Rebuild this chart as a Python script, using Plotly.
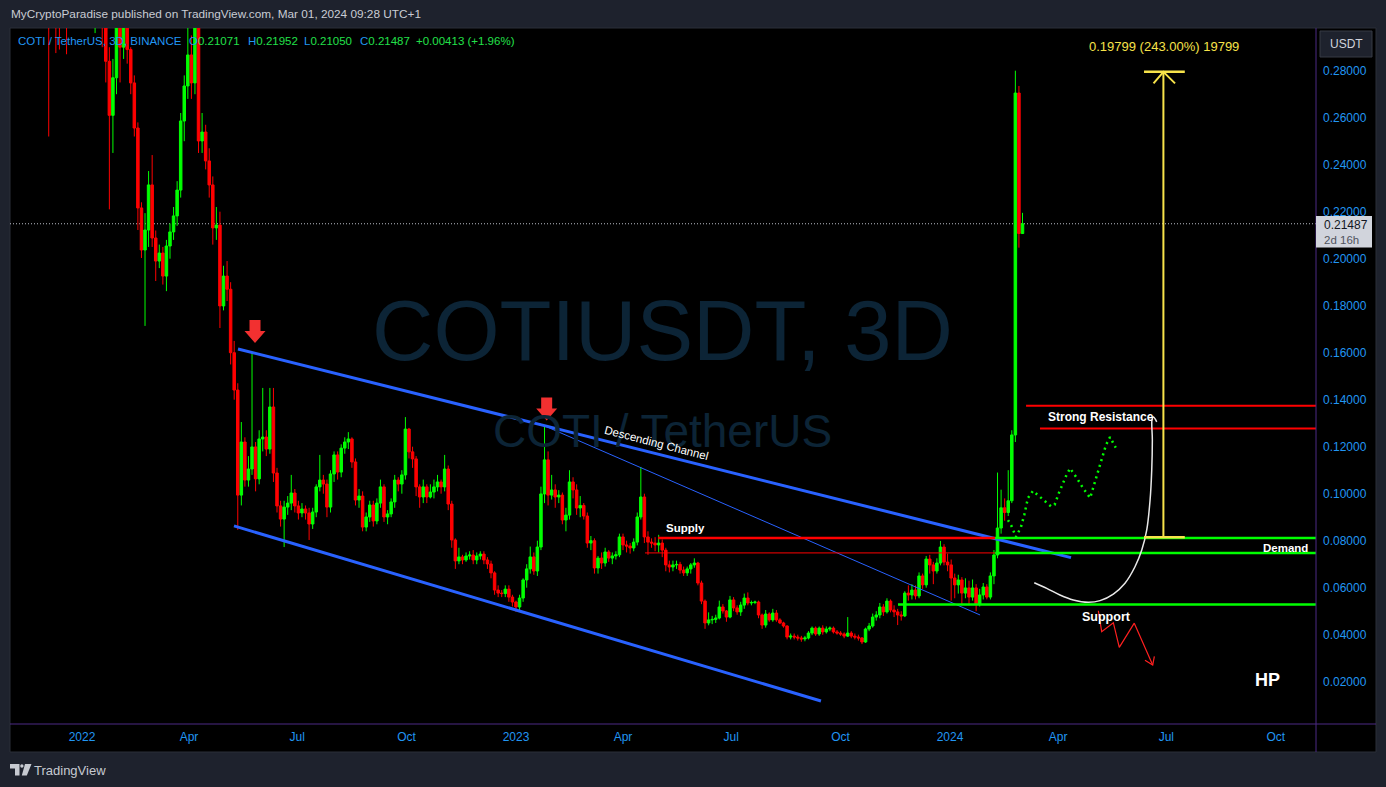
import pandas as pd
import plotly.graph_objects as go

# ---------------- data (3D candles, COTI/USDT) ----------------
LAST_DATE = "2024-03-02"
FIRST_OPEN = 0.39
CLOSES = [
    0.34, 0.36, 0.33, 0.31, 0.33, 0.315, 0.34, 0.36, 0.34, 0.33,
    0.35, 0.33, 0.315, 0.32, 0.305, 0.30, 0.284, 0.261, 0.277, 0.305,
    0.29, 0.31, 0.289, 0.2748, 0.2556, 0.2216, 0.2037, 0.2122, 0.2314, 0.2088,
    0.1990, 0.2024, 0.1926, 0.2054, 0.2114, 0.2182, 0.2292, 0.2586, 0.2735, 0.2867,
    0.2748, 0.32, 0.2501, 0.2539, 0.2416, 0.2314, 0.2131, 0.2143, 0.1799, 0.1926,
    0.1870, 0.1600, 0.1441, 0.0994, 0.1220, 0.1058, 0.1105, 0.1199, 0.1063, 0.1233,
    0.1241, 0.1190, 0.1369, 0.1088, 0.0948, 0.0892, 0.0943, 0.0960, 0.1003, 0.0948,
    0.0918, 0.0935, 0.0918, 0.0871, 0.0922, 0.1029, 0.1058, 0.1041, 0.0943, 0.1084,
    0.1165, 0.1092, 0.1194, 0.1220, 0.1233, 0.1135, 0.0973, 0.0990, 0.0858, 0.0901,
    0.0952, 0.0884, 0.0960, 0.1029, 0.0901, 0.0914, 0.0965, 0.1058, 0.1041, 0.1080,
    0.1275, 0.1178, 0.1148, 0.1029, 0.0986, 0.1029, 0.0986, 0.1007, 0.1029, 0.1050,
    0.1029, 0.1105, 0.0956, 0.0803, 0.0714, 0.0731, 0.0718, 0.0735, 0.0739, 0.0718,
    0.0735, 0.0743, 0.0718, 0.0701, 0.0663, 0.0590, 0.0577, 0.0575, 0.0594, 0.0560,
    0.0539, 0.0518, 0.0556, 0.0633, 0.0680, 0.0731, 0.0671, 0.0773, 0.0999, 0.1144,
    0.0994, 0.1016, 0.0986, 0.0994, 0.0888, 0.0909, 0.1050, 0.1016, 0.0939, 0.0950,
    0.0905, 0.0790, 0.0800, 0.0684, 0.0726, 0.0705, 0.0752, 0.0726, 0.0735, 0.0740,
    0.0816, 0.0782, 0.0777, 0.0769, 0.0794, 0.0901, 0.0986, 0.0816, 0.0794, 0.0790,
    0.0782, 0.0790, 0.0760, 0.0697, 0.0688, 0.0697, 0.0699, 0.0675, 0.0663, 0.0680,
    0.0697, 0.0705, 0.0620, 0.0543, 0.0450, 0.0463, 0.0465, 0.0471, 0.0518, 0.0501,
    0.0475, 0.0548, 0.0514, 0.0497, 0.0526, 0.0556, 0.0535, 0.0537, 0.0539, 0.0484,
    0.0441, 0.0488, 0.0463, 0.0492, 0.0463, 0.0450, 0.0437, 0.0390, 0.0394, 0.0390,
    0.0386, 0.0382, 0.0386, 0.0407, 0.0428, 0.0403, 0.0428, 0.0412, 0.0424, 0.0428,
    0.0412, 0.0407, 0.0403, 0.0394, 0.0407, 0.0394, 0.0390, 0.0386, 0.0369, 0.0424,
    0.0437, 0.0475, 0.0484, 0.0518, 0.0497, 0.0543, 0.0505, 0.0497, 0.0484, 0.0480,
    0.0577, 0.0569, 0.0590, 0.0565, 0.0650, 0.0612, 0.0722, 0.0697, 0.0671, 0.0705,
    0.0773, 0.0709, 0.0697, 0.0641, 0.0612, 0.0633, 0.0577, 0.0599, 0.0560, 0.0599,
    0.0531, 0.0569, 0.0603, 0.0560, 0.0650, 0.0739, 0.0854, 0.0940, 0.0920, 0.0970,
    0.1250, 0.2705, 0.21071, 0.21487,
]
HIGHS = [
    0.40, 0.37, 0.365, 0.335, 0.335, 0.335, 0.345, 0.37, 0.365, 0.345,
    0.355, 0.355, 0.335, 0.325, 0.325, 0.312, 0.305, 0.29, 0.285, 0.31,
    0.31, 0.315, 0.312, 0.29, 0.278, 0.258, 0.224, 0.2194, 0.2373, 0.2441,
    0.212, 0.206, 0.205, 0.208, 0.215, 0.222, 0.233, 0.262, 0.278, 0.30,
    0.295, 0.335, 0.33, 0.262, 0.257, 0.247, 0.235, 0.222, 0.22, 0.197,
    0.199, 0.19, 0.165, 0.147, 0.1305, 0.124, 0.116, 0.1603, 0.122, 0.127,
    0.1450, 0.127, 0.1450, 0.1450, 0.111, 0.097, 0.097, 0.099, 0.108, 0.102,
    0.097, 0.096, 0.095, 0.094, 0.094, 0.104, 0.1165, 0.108, 0.106, 0.110,
    0.118, 0.118, 0.121, 0.124, 0.1262, 0.124, 0.115, 0.102, 0.101, 0.092,
    0.097, 0.097, 0.098, 0.106, 0.104, 0.093, 0.098, 0.108, 0.107, 0.110,
    0.1326, 0.128, 0.120, 0.116, 0.104, 0.106, 0.104, 0.104, 0.106, 0.108,
    0.106, 0.1165, 0.112, 0.097, 0.081, 0.077, 0.074, 0.075, 0.0755, 0.076,
    0.075, 0.0755, 0.0755, 0.073, 0.0715, 0.067, 0.061, 0.059, 0.061, 0.061,
    0.057, 0.0545, 0.057, 0.064, 0.070, 0.0775, 0.075, 0.080, 0.103, 0.1292,
    0.118, 0.108, 0.104, 0.1015, 0.1005, 0.094, 0.1100, 0.107, 0.104, 0.099,
    0.096, 0.092, 0.082, 0.081, 0.0735, 0.075, 0.077, 0.076, 0.075, 0.0755,
    0.083, 0.083, 0.080, 0.079, 0.081, 0.092, 0.1114, 0.100, 0.084, 0.081,
    0.0815, 0.0825, 0.0805, 0.077, 0.0715, 0.0715, 0.0715, 0.071, 0.069, 0.069,
    0.0705, 0.0725, 0.071, 0.063, 0.055, 0.0495, 0.048, 0.0485, 0.0545, 0.053,
    0.0505, 0.0565, 0.056, 0.0525, 0.054, 0.0575, 0.058, 0.0545, 0.0545, 0.0545,
    0.049, 0.0505, 0.0495, 0.051, 0.0505, 0.047, 0.0455, 0.044, 0.0405, 0.0405,
    0.040, 0.0395, 0.0395, 0.0415, 0.0435, 0.0435, 0.0435, 0.044, 0.0435, 0.0435,
    0.0435, 0.042, 0.0415, 0.041, 0.0475, 0.0415, 0.0405, 0.040, 0.039, 0.043,
    0.045, 0.049, 0.050, 0.0535, 0.053, 0.0555, 0.055, 0.0525, 0.051, 0.050,
    0.0585, 0.061, 0.0615, 0.061, 0.0665, 0.066, 0.0735, 0.074, 0.071, 0.0725,
    0.0799, 0.0785, 0.0745, 0.072, 0.066, 0.0655, 0.0645, 0.064, 0.063, 0.0635,
    0.0615, 0.0595, 0.062, 0.0615, 0.0665, 0.076, 0.109, 0.1017, 0.098, 0.110,
    0.127, 0.2800, 0.2735, 0.21952,
]
LOWS = [
    0.252, 0.32, 0.2875, 0.289, 0.30, 0.287, 0.305, 0.33, 0.33, 0.315,
    0.32, 0.31, 0.305, 0.296, 0.30, 0.29, 0.275, 0.221, 0.245, 0.27,
    0.275, 0.285, 0.283, 0.27, 0.252, 0.2122, 0.2003, 0.1714, 0.205, 0.205,
    0.1905, 0.196, 0.189, 0.1862, 0.200, 0.208, 0.214, 0.226, 0.25, 0.268,
    0.268, 0.27, 0.245, 0.245, 0.238, 0.226, 0.206, 0.208, 0.1705, 0.178,
    0.182, 0.155, 0.14, 0.0846, 0.095, 0.103, 0.103, 0.108, 0.101, 0.104,
    0.118, 0.116, 0.117, 0.105, 0.092, 0.086, 0.0773, 0.091, 0.093, 0.092,
    0.089, 0.090, 0.089, 0.0803, 0.085, 0.090, 0.101, 0.100, 0.090, 0.092,
    0.105, 0.106, 0.107, 0.117, 0.119, 0.111, 0.095, 0.094, 0.084, 0.084,
    0.088, 0.086, 0.087, 0.094, 0.088, 0.087, 0.090, 0.094, 0.101, 0.100,
    0.106, 0.115, 0.111, 0.099, 0.094, 0.096, 0.096, 0.098, 0.098, 0.101,
    0.100, 0.101, 0.093, 0.077, 0.068, 0.070, 0.070, 0.071, 0.072, 0.070,
    0.070, 0.072, 0.070, 0.068, 0.064, 0.057, 0.056, 0.056, 0.056, 0.054,
    0.052, 0.0497, 0.050, 0.054, 0.060, 0.066, 0.0655, 0.065, 0.076, 0.096,
    0.095, 0.0975, 0.094, 0.096, 0.087, 0.084, 0.089, 0.098, 0.091, 0.090,
    0.089, 0.077, 0.076, 0.066, 0.066, 0.068, 0.069, 0.071, 0.070, 0.072,
    0.073, 0.076, 0.075, 0.0745, 0.0755, 0.078, 0.089, 0.079, 0.074, 0.077,
    0.0755, 0.075, 0.073, 0.067, 0.0665, 0.067, 0.068, 0.066, 0.065, 0.065,
    0.066, 0.0685, 0.061, 0.053, 0.0425, 0.044, 0.0445, 0.045, 0.0465, 0.049,
    0.0455, 0.047, 0.050, 0.0485, 0.048, 0.051, 0.0525, 0.0525, 0.053, 0.047,
    0.0425, 0.043, 0.0455, 0.0455, 0.0455, 0.0445, 0.043, 0.038, 0.038, 0.038,
    0.0375, 0.037, 0.0372, 0.038, 0.0398, 0.0395, 0.0395, 0.040, 0.0405, 0.0415,
    0.0405, 0.040, 0.0395, 0.0385, 0.039, 0.0385, 0.038, 0.0375, 0.036, 0.0365,
    0.0415, 0.043, 0.046, 0.047, 0.048, 0.049, 0.0495, 0.0475, 0.0441, 0.046,
    0.0475, 0.0545, 0.055, 0.055, 0.0555, 0.0595, 0.060, 0.066, 0.0615, 0.066,
    0.0695, 0.0695, 0.067, 0.0545, 0.0555, 0.0575, 0.0525, 0.0555, 0.0525, 0.0545,
    0.0500, 0.052, 0.055, 0.055, 0.055, 0.0615, 0.0725, 0.083, 0.0885, 0.0905,
    0.096, 0.122, 0.2047, 0.21050,
]
assert len(CLOSES) == len(HIGHS) == len(LOWS)

# axes
X_RANGE = ["2021-11-01 10:30", "2024-11-03 20:20"]
Y_RANGE = [0.0020, 0.29817]
X_TICK_DATES = ["2022-01-01", "2022-04-01", "2022-07-01", "2022-10-01",
                "2023-01-01", "2023-04-01", "2023-07-01", "2023-10-01",
                "2024-01-01", "2024-04-01", "2024-07-01", "2024-10-01"]
X_TICK_TEXT = ["2022", "Apr", "Jul", "Oct", "2023", "Apr", "Jul", "Oct",
               "2024", "Apr", "Jul", "Oct"]
Y_TICKS = [0.02, 0.04, 0.06, 0.08, 0.10, 0.12, 0.14, 0.16, 0.18, 0.20,
           0.22, 0.24, 0.26, 0.28]
LAST_PRICE = 0.21487

# drawings: (days after 2022-01-01, price)
UPPER_CH_DAYS, UPPER_CH_PRICES = [131.2, 831.8], [0.1616, 0.0728]
LOWER_CH_DAYS, LOWER_CH_PRICES = [127.8, 621.5], [0.0863, 0.0118]
INNER_DAYS, INNER_PRICES = [385.2, 755.3], [0.1297, 0.0484]
SUPPLY_PRICE, SUPPLY_THIN_PRICE, SUPPORT_PRICE = 0.0811, 0.0748, 0.0528
RES_HIGH, RES_LOW = 0.1374, 0.1277
ARROW_DAYS, ARROW_TIPS = [145.5, 390.8], [0.1641, 0.1311]
PATH_DAYS = [778.8, 781.6, 785.5, 789.7, 792.5, 795.6, 799.8, 807.4, 815.0, 818.0,
             821.7, 827.6, 831.0, 836.8, 841.9, 847.9, 853.0, 856.2, 861.2, 864.6, 869.4]
PATH_PRICES = [0.0888, 0.0864, 0.0816, 0.0858, 0.0910, 0.0982, 0.1012, 0.0977, 0.0946, 0.0953,
               0.1004, 0.1075, 0.1108, 0.1066, 0.1024, 0.0982, 0.1066, 0.1116, 0.1207, 0.1241, 0.1196]
CURVE_DAYS = [800.9, 811.4, 822.5, 833.7, 846.3, 856.2, 867.4, 877.2, 885.6, 891.3,
              895.5, 898.3, 899.7, 900.2, 899.9, 901.0, 903.9]
CURVE_PRICES = [0.0621, 0.0597, 0.0569, 0.0548, 0.0538, 0.0545, 0.0573, 0.0619, 0.0689, 0.0760,
                0.0846, 0.0973, 0.1101, 0.1229, 0.1314, 0.1326, 0.1306]
ZIGZAG_DAYS = [854.8, 857.6, 867.4, 872.4, 885.0, 900.5]
ZIGZAG_PRICES = [0.0502, 0.0413, 0.0451, 0.0346, 0.0449, 0.0271]
ZIGZAG_HEAD_DAYS = [901.9, 900.5, 894.0]
ZIGZAG_HEAD_PRICES = [0.0308, 0.0271, 0.0291]
MEASURE_DAY, MEASURE_LOW, MEASURE_HIGH = 909.5, 0.0815, 0.2795
MEASURE_BAR = [893.2, 927.5]
MEASURE_HEAD_DAYS = [901.2, 909.5, 919.3]
MEASURE_LABEL = "0.19799 (243.00%) 19799"

BLUE = "#2196f3"
GREEN = "#00ff00"
RED = "#ff0000"
YELLOW = "#f7e34a"
LINE_BLUE = "#2962ff"
PURPLE = "#4c2a85"
GRAY_BG = "#1e222d"

BASE = pd.Timestamp("2022-01-01")


def day(d):
    return BASE + pd.to_timedelta(d, unit="D")


def days(lst):
    return [day(d) for d in lst]


# pixel -> paper helpers for frame decoration
def px(x):
    return (x - 10) / 1306


def py(y):
    return (724 - y) / 696


dates = pd.date_range(end=LAST_DATE, periods=len(CLOSES), freq="3D")
opens = [FIRST_OPEN] + CLOSES[:-1]

fig = go.Figure()
fig.add_trace(go.Candlestick(
    x=dates, open=opens, high=HIGHS, low=LOWS, close=CLOSES,
    increasing=dict(line=dict(color=GREEN, width=1), fillcolor=GREEN),
    decreasing=dict(line=dict(color=RED, width=1), fillcolor=RED),
    whiskerwidth=0, hoverinfo="skip", showlegend=False,
))


def line(xd, yv, color, width, dash=None, shape="linear"):
    fig.add_trace(go.Scatter(x=xd, y=yv, mode="lines",
                             line=dict(color=color, width=width, dash=dash, shape=shape),
                             hoverinfo="skip", showlegend=False))


RIGHT_END = 1045
# channel
line(days(UPPER_CH_DAYS), UPPER_CH_PRICES, LINE_BLUE, 3)
line(days(LOWER_CH_DAYS), LOWER_CH_PRICES, LINE_BLUE, 3)
line(days(INNER_DAYS), INNER_PRICES, LINE_BLUE, 1)
# levels
line(days([484.4, 768]), [SUPPLY_PRICE] * 2, RED, 2.5)
line(days([473.5, 768]), [SUPPLY_THIN_PRICE] * 2, RED, 1)
line(days([768, RIGHT_END]), [SUPPLY_PRICE] * 2, GREEN, 2.5)
line(days([768, RIGHT_END]), [SUPPLY_THIN_PRICE] * 2, GREEN, 2.5)
line(days([686.3, RIGHT_END]), [SUPPORT_PRICE] * 2, GREEN, 2.5)
line(days([794, RIGHT_END]), [RES_HIGH] * 2, RED, 2)
line(days([805.7, RIGHT_END]), [RES_LOW] * 2, RED, 2)
# projections
line(days(PATH_DAYS), PATH_PRICES, GREEN, 2.5, dash="2px,4px")
line(days(CURVE_DAYS), CURVE_PRICES, "#e8e8e8", 1.5, shape="spline")
line(days(ZIGZAG_DAYS), ZIGZAG_PRICES, "#ff2020", 1.2)
line(days(ZIGZAG_HEAD_DAYS), ZIGZAG_HEAD_PRICES, "#ff2020", 1.2)
# measure
line(days([MEASURE_DAY, MEASURE_DAY]), [MEASURE_LOW, MEASURE_HIGH], YELLOW, 2)
line(days(MEASURE_BAR), [MEASURE_LOW] * 2, YELLOW, 2.5)
line(days(MEASURE_BAR), [MEASURE_HIGH] * 2, YELLOW, 2.5)
line(days(MEASURE_HEAD_DAYS), [MEASURE_HIGH - 0.0049, MEASURE_HIGH, MEASURE_HIGH - 0.0049], YELLOW, 2)

shapes = []
# black chart + axis zone
shapes.append(dict(type="rect", xref="paper", yref="paper", x0=0, x1=px(1376),
                   y0=py(752), y1=1, fillcolor="#000000",
                   line=dict(color="#2a2e39", width=1), layer="below"))
shapes.append(dict(type="line", xref="paper", yref="y", x0=0, x1=1,
                   y0=LAST_PRICE, y1=LAST_PRICE,
                   line=dict(color="#b8bcc6", width=1, dash="1px,2px"), layer="below"))
# axis separators
shapes.append(dict(type="line", xref="paper", yref="paper", x0=1, x1=1,
                   y0=py(752), y1=1, line=dict(color=PURPLE, width=1)))
shapes.append(dict(type="line", xref="paper", yref="paper", x0=0, x1=px(1376),
                   y0=0, y1=0, line=dict(color=PURPLE, width=1)))
# last price box
shapes.append(dict(type="rect", xref="paper", yref="paper", x0=1.0, x1=px(1372),
                   y0=py(247.5), y1=py(216), fillcolor="#d1d4dc", line=dict(width=0)))
# USDT button
shapes.append(dict(type="rect", xref="paper", yref="paper", x0=px(1320), x1=px(1372),
                   y0=py(57), y1=py(31), fillcolor="#1e222d",
                   line=dict(color="#363a45", width=1)))
# red arrows
ARROW_PATH = "M -5.5,23 L 5.5,23 L 5.5,12 L 10.5,12 L 0,0 L -10.5,12 L -5.5,12 Z"
for d, p in zip(ARROW_DAYS, ARROW_TIPS):
    shapes.append(dict(type="path", xref="x", yref="y", xsizemode="pixel",
                       ysizemode="pixel", xanchor=day(d), yanchor=p, path=ARROW_PATH,
                       fillcolor="#f23030", line=dict(width=0)))


def ppath(points):
    return "M " + " L ".join(f"{px(x):.6f},{py(y):.6f}" for x, y in points) + " Z"


LOGO = "#c7cad1"
shapes.append(dict(type="path", xref="paper", yref="paper",
                   path=ppath([(10, 764), (19.5, 764), (19.5, 775.5), (15, 775.5), (15, 768.5), (10, 768.5)]),
                   fillcolor=LOGO, line=dict(width=0)))
shapes.append(dict(type="circle", xref="paper", yref="paper", x0=px(20.2), x1=px(23.6),
                   y0=py(767.7), y1=py(764.3), fillcolor=LOGO, line=dict(width=0)))
shapes.append(dict(type="path", xref="paper", yref="paper",
                   path=ppath([(25, 764), (31.5, 764), (26.8, 775.5), (21.8, 775.5)]),
                   fillcolor=LOGO, line=dict(width=0)))

FONT = "Liberation Sans, Arial, sans-serif"
annotations = []


def ann(text, x, y, size, color, xanchor="left", yanchor="middle", xref="paper",
        yref="paper", angle=0, family=FONT):
    annotations.append(dict(text=text, x=x, y=y, xref=xref, yref=yref, xanchor=xanchor,
                            yanchor=yanchor, showarrow=False, textangle=angle,
                            font=dict(size=size, color=color, family=family)))


# watermark
ann("COTIUSDT, 3D", px(662), py(331), 85, "#0c2436", xanchor="center")
ann("COTI / TetherUS", px(662), py(431), 46, "#0c2436", xanchor="center")
# header / legend
ann("MyCryptoParadise published on TradingView.com, Mar 01, 2024 09:28 UTC+1",
    px(9), py(14), 11.8, "#c9ccd4")
ann("COTI / TetherUS, 3D, BINANCE", px(16), py(41), 11.5, BLUE)
VAL_GREEN = "#22e04a"
for lbl, val, xx in [("O", "0.21071", 187), ("H", "0.21952", 246), ("L", "0.21050", 302),
                     ("C", "0.21487", 358)]:
    ann(f"{lbl}<span style='color:{VAL_GREEN}'>{val}</span>", px(xx), py(41), 11.5, BLUE)
ann("+0.00413 (+1.96%)", px(414), py(41), 11.5, VAL_GREEN)
# axis boxes
ann("0.21487", px(1322), py(224.5), 12, "#131722")
ann("2d 16h", px(1322), py(239.5), 11.5, "#50535e")
ann("USDT", px(1346), py(44), 12, "#d1d4dc", xanchor="center")
ann("TradingView", px(32), py(770), 13, "#c7cad1")
# chart labels
ann("<b>Supply</b>", day(489.5), 0.0854, 11.5, "#ffffff", xref="x", yref="y")
ann("<b>Strong Resistance</b>", day(810.5), 0.1326, 12, "#ffffff", xref="x", yref="y")
ann("<b>Demand</b>", day(1033.0), 0.0770, 11.5, "#ffffff", xanchor="right", xref="x", yref="y")
ann("<b>Support</b>", day(862.0), 0.0477, 12.5, "#ffffff", xanchor="center", xref="x", yref="y")
ann("<b>HP</b>", day(997.0), 0.0207, 18, "#ffffff", xanchor="center", xref="x", yref="y")
ann("Descending Channel", day(483.2), 0.1214, 11.5, "#ffffff", xanchor="center",
    xref="x", yref="y", angle=14.5)
ann(MEASURE_LABEL, day(910), 0.2902, 13, YELLOW, xanchor="center", xref="x", yref="y")

fig.update_layout(
    width=1386, height=787,
    margin=dict(l=10, r=70, t=28, b=63),
    paper_bgcolor=GRAY_BG, plot_bgcolor="#000000",
    showlegend=False, boxgap=0.3, boxgroupgap=0,
    font=dict(family=FONT),
    shapes=shapes, annotations=annotations,
    xaxis=dict(type="date", range=X_RANGE, rangeslider=dict(visible=False),
               showgrid=False, zeroline=False, showline=False, ticks="",
               tickvals=X_TICK_DATES, ticktext=X_TICK_TEXT,
               tickfont=dict(color=BLUE, size=12, family=FONT), ticklabelstandoff=4),
    yaxis=dict(side="right", range=Y_RANGE, showgrid=False, zeroline=False,
               showline=False, ticks="", tickvals=Y_TICKS,
               ticktext=[f"{v:.5f}" for v in Y_TICKS],
               tickfont=dict(color=BLUE, size=12, family=FONT), ticklabelstandoff=6),
)

fig.write_html(
    "out.html",
    config={"displayModeBar": False, "staticPlot": True},
    post_script="document.body.style.margin='0';document.body.style.overflow='hidden';"
                "document.body.style.background='#1e222d';",
)
